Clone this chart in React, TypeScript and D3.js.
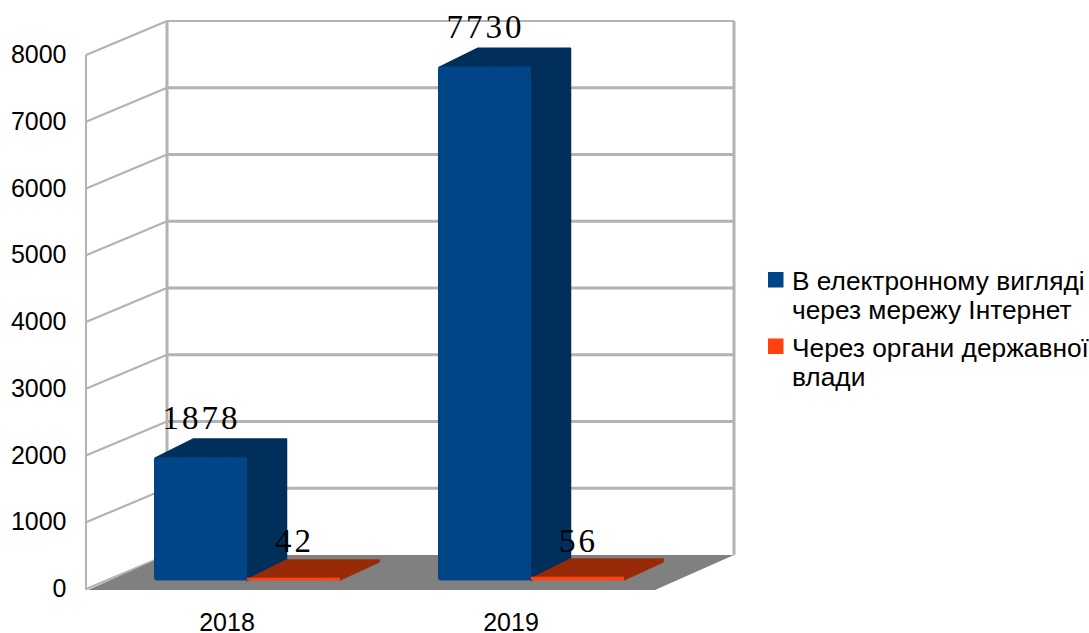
import React from "react";
import * as d3 from "d3";

const categories = ["2018", "2019"];
const seriesNames = ["internet", "authorities"];
const internetValues = [1878, 7730];
const authorityValues = [42, 56];
const yTicks = [0, 1000, 2000, 3000, 4000, 5000, 6000, 7000, 8000];
const legendLabels = [
  ["В електронному вигляді", "через мережу Інтернет"],
  ["Через органи державної", "влади"],
];

const WIDTH = 1089;
const HEIGHT = 633;
const SANS = "'Liberation Sans', Arial, sans-serif";
const SERIF = "'Liberation Serif', 'Times New Roman', serif";

// Front plane of the 3D box and the oblique offset to its back plane.
const FRONT_LEFT = 87;
const FRONT_RIGHT = 655;
const FRONT_BOTTOM = 589;
const FRONT_TOP = 55;
const DEPTH_X = 80;
const DEPTH_Y = -34;

const palette = {
  internet: { front: "#004586", dark: "#002f5c" },
  authorities: { front: "#ff420e", dark: "#992a08" },
};

const y = d3.scaleLinear().domain([0, 8000]).range([FRONT_BOTTOM, FRONT_TOP]);
const x0 = d3
  .scaleBand()
  .domain(categories)
  .range([FRONT_LEFT, FRONT_RIGHT])
  .paddingInner(0.345)
  .paddingOuter(0.1725);
const x1 = d3.scaleBand().domain(seriesNames).range([0, x0.bandwidth()]);

// Bars sit in the middle of the floor depth.
const BAR_INSET_X = 18;
const BAR_INSET_Y = -8.5;
const BAR_DEPTH_X = 39.5;
const BAR_DEPTH_Y = -18.2;
// Tall bars lose a little height to their bevelled top edge.
const BEVEL = 2;

const poly = (pts: number[][]) => {
  const line = d3.line();
  return line(pts as [number, number][]) + "Z";
};

const isTall = (value: number) => value > 1000;
const barTop = (value: number) => y(value) + BAR_INSET_Y + (isTall(value) ? BEVEL : 0);

function Bar3D({ cat, series, value, color }: { cat: string; series: string; value: number; color: { front: string; dark: string } }) {
  const left = (x0(cat) as number) + (x1(series) as number) + BAR_INSET_X;
  const right = left + x1.bandwidth();
  const base = FRONT_BOTTOM + BAR_INSET_Y;
  const top = barTop(value);
  const dx = BAR_DEPTH_X;
  const dy = BAR_DEPTH_Y;
  const tall = isTall(value);
  const r = tall ? 3 : 0;
  return (
    <g>
      <path
        d={poly([[left + 1, top + 1], [left + dx, top + dy], [right + dx, top + dy], [right + dx, base + dy], [right, base], [right, top]])}
        fill={color.dark}
        stroke={color.dark}
        strokeWidth={tall ? 1.5 : 0.5}
        strokeLinejoin="round"
      />
      <rect x={left} y={top} width={x1.bandwidth()} height={base - top} rx={r} ry={r} fill={color.front} />
    </g>
  );
}

export default function App() {
  const floor = [
    [FRONT_LEFT + 1, FRONT_BOTTOM + 1],
    [FRONT_LEFT + DEPTH_X, FRONT_BOTTOM + DEPTH_Y],
    [FRONT_RIGHT + DEPTH_X - 1, FRONT_BOTTOM + DEPTH_Y],
    [FRONT_RIGHT, FRONT_BOTTOM + 1],
  ];
  const backLeft = FRONT_LEFT + DEPTH_X;
  const backRight = FRONT_RIGHT + DEPTH_X - 1;

  const labelY = (v: number) => barTop(v) + BAR_DEPTH_Y - (isTall(v) ? 10 : 7);
  const labelX = (cat: string, series: string) =>
    (x0(cat) as number) + (x1(series) as number) + BAR_INSET_X + x1.bandwidth() / 2 + 1;

  return (
    <svg width={WIDTH} height={HEIGHT} style={{ position: "absolute", left: 0, top: 0 }}>
      <rect width={WIDTH} height={HEIGHT} fill="#ffffff" />

      {/* walls and gridlines */}
      <g stroke="#b3b3b3" fill="none">
        {yTicks.map((t) => (
          <g key={t}>
            <path d={`M${FRONT_LEFT - 1},${y(t)}L${backLeft},${y(t) + DEPTH_Y}`} strokeWidth={2.2} />
            {t > 0 && <path d={`M${backLeft},${y(t) + DEPTH_Y}H${backRight}`} strokeWidth={t === 8000 ? 2 : 3} />}
          </g>
        ))}
        <path d={`M${FRONT_LEFT - 1},${FRONT_TOP}V${FRONT_BOTTOM + 1}`} strokeWidth={2} />
        <path d={`M${backLeft},${FRONT_TOP + DEPTH_Y}V${FRONT_BOTTOM + DEPTH_Y}`} strokeWidth={3} />
        <path d={`M${backRight},${FRONT_TOP + DEPTH_Y}V${FRONT_BOTTOM + DEPTH_Y}`} strokeWidth={3} />
      </g>
      <path d={poly(floor)} fill="#808080" />

      {/* bars */}
      {categories.map((c, i) => (
        <g key={c}>
          <Bar3D cat={c} series="internet" value={internetValues[i]} color={palette.internet} />
          <Bar3D cat={c} series="authorities" value={authorityValues[i]} color={palette.authorities} />
        </g>
      ))}

      {/* value labels */}
      <g fontFamily={SERIF} fontSize={33} letterSpacing={3} fill="#000000" textAnchor="middle">
        {categories.map((c, i) => (
          <g key={c}>
            <text x={labelX(c, "internet")} y={labelY(internetValues[i])}>{internetValues[i]}</text>
            <text x={labelX(c, "authorities")} y={labelY(authorityValues[i])}>{authorityValues[i]}</text>
          </g>
        ))}
      </g>

      {/* axis labels */}
      <g fontFamily={SANS} fontSize={25} fill="#000000">
        {yTicks.map((t) => (
          <text key={t} x={66.5} y={y(t) + 8} textAnchor="end">{t}</text>
        ))}
        {categories.map((c) => (
          <text key={c} x={(x0(c) as number) + x0.bandwidth() / 2 - 2} y={631} textAnchor="middle">{c}</text>
        ))}
      </g>

      {/* legend */}
      <g fontFamily={SANS} fontSize={26.3} fill="#000000">
        {legendLabels.map((lines, i) => {
          const top = 272 + i * 66.5;
          const col = i === 0 ? palette.internet.front : palette.authorities.front;
          return (
            <g key={lines[0]}>
              <rect x={768} y={top} width={15.5} height={15.5} fill={col} />
              {lines.map((l, j) => (
                <text key={l} x={792} y={top + 18 + j * 29}>{l}</text>
              ))}
            </g>
          );
        })}
      </g>
    </svg>
  );
}
